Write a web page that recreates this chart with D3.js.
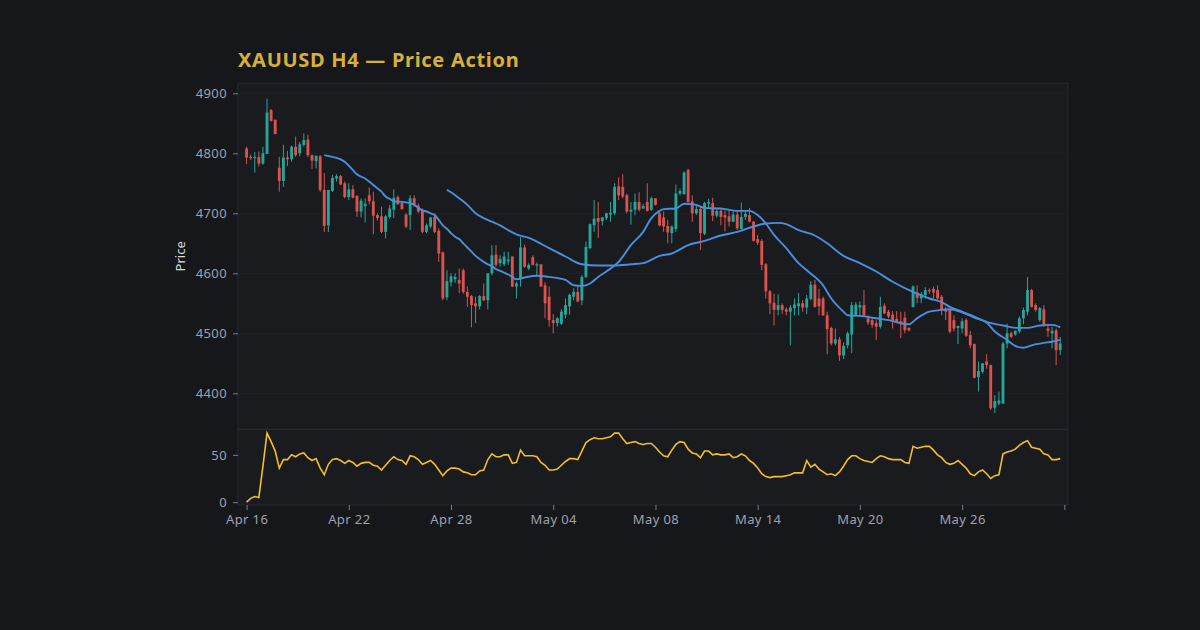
<!DOCTYPE html>
<html>
<head>
<meta charset="utf-8">
<script src="https://cdn.jsdelivr.net/npm/d3@7"></script>
<style>
  html, body { margin: 0; padding: 0; background: #16171b; }
  svg { display: block; font-family: "Noto Sans", Lato, sans-serif; }
  .axis text { fill: #9ea2ab; font-size: 13px; font-family: "Noto Sans", Lato, sans-serif; letter-spacing: 0.4px; }
  .axis path { display: none; }
  .axis line { stroke: #7a7e87; }
</style>
</head>
<body>
<svg id="chart" width="1200" height="630"></svg>
<script>
// H4 candles, index 0 = Apr 16
const opens = [
  4808,4794,4792,4794,4783,4799,4872,4856,4776,4754, 4793,4790,4811,4800,4814,4823,4797,4787,4795,4739,
  4680,4737,4758,4762,4750,4727,4740,4729,4703,4712, 4730,4720,4697,4695,4669,4694,4706,4727,4717,4698,
  4697,4725,4713,4705,4669,4678,4694,4671,4635,4560, 4585,4590,4589,4605,4569,4562,4550,4545,4562,4555,
  4600,4631,4617,4615,4620,4628,4578,4590,4643,4608, 4627,4613,4615,4580,4561,4522,4517,4516,4531,4545,
  4561,4569,4555,4594,4642,4680,4692,4687,4692,4698, 4700,4745,4744,4730,4703,4706,4719,4708,4719,4706,
  4725,4700,4693,4679,4667,4674,4733,4732,4772,4720, 4700,4707,4666,4716,4717,4696,4704,4697,4695,4686,
  4698,4674,4694,4697,4686,4657,4654,4615,4570,4551, 4539,4547,4540,4536,4542,4545,4550,4543,4557,4581,
  4558,4558,4530,4509,4483,4490,4463,4480,4498,4529, 4543,4547,4525,4522,4517,4511,4546,4536,4531,4524,
  4520,4526,4509,4544,4568,4558,4564,4572,4574,4572, 4561,4541,4539,4522,4509,4508,4522,4497,4482,4427,
  4436,4453,4447,4376,4383,4383,4483,4500,4498,4503, 4525,4536,4572,4547,4522,4540,4508,4500,4505,4472
];
const highs = [
  4811,4798,4802,4803,4811,4891,4874,4856,4794,4814, 4804,4813,4828,4819,4833,4831,4798,4796,4797,4767,
  4739,4764,4765,4764,4753,4750,4747,4730,4725,4725, 4743,4736,4700,4711,4697,4714,4740,4730,4719,4700,
  4730,4730,4716,4708,4683,4694,4700,4675,4636,4605, 4600,4600,4608,4608,4578,4564,4561,4564,4583,4600,
  4647,4647,4630,4636,4636,4628,4586,4660,4648,4617, 4630,4618,4615,4585,4578,4532,4527,4540,4558,4566,
  4575,4580,4597,4653,4683,4722,4719,4694,4701,4719, 4750,4760,4765,4733,4719,4733,4735,4716,4750,4728,
  4725,4703,4703,4689,4680,4748,4741,4770,4774,4730, 4714,4711,4719,4724,4726,4709,4707,4704,4704,4703,
  4705,4718,4704,4709,4687,4664,4657,4617,4572,4566, 4565,4550,4543,4547,4558,4567,4555,4564,4587,4589,
  4574,4561,4536,4511,4508,4494,4485,4503,4552,4552, 4553,4572,4530,4525,4522,4561,4550,4539,4537,4537,
  4536,4536,4510,4580,4580,4569,4577,4575,4578,4580, 4564,4544,4541,4530,4513,4525,4525,4504,4483,4453,
  4450,4465,4448,4397,4403,4486,4516,4503,4505,4528, 4543,4594,4574,4550,4544,4547,4516,4511,4508,4494
];
const lows = [
  4782,4789,4768,4778,4781,4799,4853,4832,4736,4744, 4779,4786,4794,4795,4811,4794,4774,4775,4736,4669,
  4669,4736,4753,4747,4725,4722,4725,4694,4693,4685, 4715,4665,4688,4667,4658,4691,4692,4714,4706,4675,
  4672,4711,4700,4667,4667,4675,4667,4619,4555,4555, 4578,4584,4567,4566,4544,4510,4517,4540,4554,4540,
  4597,4611,4611,4612,4614,4577,4558,4578,4609,4605, 4613,4596,4578,4525,4511,4500,4511,4514,4525,4531,
  4555,4552,4547,4592,4640,4669,4659,4680,4689,4686, 4697,4722,4725,4700,4681,4697,4703,4707,4703,4704,
  4713,4678,4669,4650,4650,4669,4730,4731,4718,4686, 4697,4639,4664,4709,4687,4693,4680,4670,4678,4686,
  4672,4672,4689,4685,4653,4647,4605,4558,4532,4513, 4530,4532,4530,4480,4530,4530,4536,4532,4555,4543,
  4530,4529,4465,4480,4480,4454,4457,4475,4467,4528, 4530,4527,4514,4509,4489,4508,4532,4525,4508,4517,
  4492,4500,4503,4543,4550,4550,4558,4566,4558,4553, 4530,4522,4500,4503,4482,4500,4494,4475,4425,4403,
  4433,4441,4372,4367,4380,4382,4475,4492,4496,4500, 4515,4530,4543,4536,4519,4511,4494,4475,4447,4464
];
const closes = [
  4793,4792,4794,4783,4800,4868,4854,4832,4754,4793, 4790,4811,4797,4815,4822,4797,4788,4796,4739,4679,
  4739,4759,4762,4748,4727,4740,4726,4703,4721,4716, 4720,4696,4692,4669,4695,4708,4726,4715,4707,4678,
  4725,4714,4703,4669,4680,4693,4669,4633,4558,4587, 4595,4594,4583,4569,4561,4547,4545,4562,4555,4600,
  4630,4614,4624,4628,4623,4578,4583,4643,4611,4614, 4614,4615,4578,4550,4522,4517,4525,4536,4547,4564,
  4569,4553,4594,4644,4682,4691,4686,4693,4700,4701, 4744,4730,4728,4703,4706,4719,4706,4712,4704,4725,
  4714,4680,4678,4668,4678,4733,4737,4768,4719,4700, 4707,4667,4717,4719,4696,4704,4694,4693,4686,4698,
  4675,4694,4699,4686,4654,4651,4614,4570,4550,4539, 4547,4539,4536,4543,4548,4550,4543,4558,4581,4544,
  4545,4530,4507,4483,4490,4463,4479,4500,4547,4548, 4547,4530,4518,4514,4511,4544,4533,4528,4520,4518,
  4515,4505,4505,4578,4559,4565,4572,4570,4568,4558, 4540,4536,4503,4508,4512,4520,4496,4480,4426,4437,
  4450,4447,4375,4387,4388,4483,4500,4494,4504,4525, 4539,4572,4544,4539,4542,4514,4504,4504,4472,4483
];

// moving averages: [candle index, price]
const maFast = [
  [19,4797],[21,4794],[23,4790],[24,4786],[26,4772],[27,4765],[29,4758],[31,4747],[33,4736],[34,4728],
  [35,4724],[36,4720],[38,4719],[40,4717],[41,4714],[42,4709],[43,4705],[44,4703],[45,4700],[46,4697],
  [47,4689],[48,4680],[49,4674],[50,4667],[51,4661],[52,4657],[53,4650],[54,4643],[55,4636],[56,4629],
  [57,4624],[58,4619],[59,4615],[60,4612],[61,4607],[62,4604],[63,4601],[64,4598],[65,4594],[66,4590],
  [68,4593],[71,4596],[74,4594],[78,4589],[80,4580],[82,4579],[84,4583],[86,4594],[88,4603],[91,4619],
  [94,4647],[97,4669],[99,4692],[101,4704],[102,4707],[105,4708],[107,4716],[110,4714],[112,4709],[116,4708],
  [120,4704],[123,4704],[125,4697],[127,4683],[129,4664],[132,4642],[135,4617],[137,4605],[141,4580],[143,4558],
  [146,4536],[147,4530],[150,4529],[154,4525],[157,4522],[160,4517],[162,4515],[164,4525],[167,4536],[170,4539],
  [172,4540],[175,4535],[178,4526],[181,4518],[183,4503],[186,4489],[188,4479],[190,4476],[192,4480],[195,4484],
  [197,4486],[199,4489]
];
const maSlow = [
  [49,4739],[50,4735],[52,4725],[54,4714],[56,4700],[58,4692],[60,4686],[62,4680],[64,4672],[66,4665],
  [69,4659],[74,4642],[78,4628],[82,4615],[86,4613],[90,4613],[94,4615],[97,4617],[101,4629],[104,4633],
  [108,4647],[112,4654],[116,4663],[120,4669],[124,4678],[127,4683],[130,4684],[132,4682],[135,4672],[139,4663],
  [142,4650],[146,4629],[150,4617],[154,4603],[158,4586],[163,4569],[167,4558],[170,4552],[172,4544],[175,4536],
  [178,4528],[181,4519],[185,4513],[188,4509],[191,4509],[194,4513],[197,4514],[199,4510]
];

// lower panel oscillator, one value per candle
const osc = [
  0,4,6,5,38,73,64,54,36,45, 45,50,48,51,52,47,44,46,36,29,
  40,45,46,44,41,44,42,38,41,42, 42,39,38,34,39,44,48,45,44,40,
  49,48,45,40,42,44,40,34,28,33, 36,36,35,32,31,29,29,33,34,45,
  51,48,48,50,50,41,42,55,49,49, 49,48,42,39,34,34,35,39,43,46,
  46,45,54,63,66,68,67,67,68,69, 73,73,67,62,63,64,62,61,62,62,
  58,53,49,48,55,61,64,63,56,52, 51,47,54,54,50,51,50,50,51,47,
  48,51,49,44,41,36,30,27,26,27, 27,27,28,29,31,31,31,44,37,40,
  35,32,29,30,28,32,38,45,49,49, 46,44,43,42,46,49,48,46,45,45,
  45,42,41,59,57,58,59,59,55,50, 47,42,40,41,44,40,36,30,28,32,
  34,30,25,28,29,51,53,54,56,60, 63,65,58,57,56,51,50,45,45,46
];

const xTickIdx = [0, 25, 50, 75, 100, 125, 150, 175, 200];
const xTickLabels = ["Apr 16", "Apr 22", "Apr 28", "May 04", "May 08", "May 14", "May 20", "May 26", ""];
const priceTicks = [4400, 4500, 4600, 4700, 4800, 4900];
const oscTicks = [0, 50];

const UP = "#26a69a", DOWN = "#d9534f";

const svg = d3.select("#chart");
const L = 238, R = 1068, T = 83.3, MID = 429.3, B = 505;

const x = d3.scaleLinear().domain([-2.1, 200.9]).range([L, R]);
const y = d3.scaleLinear().domain([4340, 4916.7]).range([MID, T]);
const yo = d3.scaleLinear().domain([-3, 77]).range([B, MID]);

// panel
svg.append("rect").attr("x", L).attr("y", T).attr("width", R - L).attr("height", B - T)
  .attr("fill", "#1a1b1f").attr("stroke", "#262930");
svg.append("line").attr("x1", L).attr("x2", R).attr("y1", MID).attr("y2", MID)
  .attr("stroke", "#2c2f37");

// grid
svg.append("g").selectAll("line").data(priceTicks).join("line")
  .attr("x1", L).attr("x2", R).attr("y1", d => y(d)).attr("y2", d => y(d))
  .attr("stroke", "#1f2126");

// title
svg.append("text").attr("x", L).attr("y", 67)
  .attr("fill", "#d6b03c").attr("font-size", 20).attr("font-weight", 700)
  .attr("letter-spacing", "0.7px")
  .text("XAUUSD H4 \u2014 Price Action");

// candles
const candles = d3.range(opens.length).map(i => ({ i, o: opens[i], h: highs[i], l: lows[i], c: closes[i] }));
const bw = (x(1) - x(0)) * 0.7;
const cg = svg.append("g");
cg.selectAll("line").data(candles).join("line")
  .attr("x1", d => x(d.i)).attr("x2", d => x(d.i))
  .attr("y1", d => y(d.h)).attr("y2", d => y(d.l))
  .attr("stroke", d => d.c >= d.o ? UP : DOWN).attr("stroke-width", 1);
cg.selectAll("rect").data(candles).join("rect")
  .attr("x", d => x(d.i) - bw / 2).attr("width", bw)
  .attr("y", d => y(Math.max(d.o, d.c)))
  .attr("height", d => Math.max(1, Math.abs(y(d.o) - y(d.c))))
  .attr("fill", d => d.c >= d.o ? UP : DOWN);

// moving averages
const maLine = d3.line().x(d => x(d[0])).y(d => y(d[1])).curve(d3.curveMonotoneX);
[maSlow, maFast].forEach(m => {
  svg.append("path").datum(m).attr("d", maLine)
    .attr("fill", "none").attr("stroke", "#4a8fdd").attr("stroke-width", 1.9);
});

// oscillator
svg.append("path").datum(osc)
  .attr("d", d3.line().x((d, i) => x(i)).y(d => yo(d)))
  .attr("fill", "none").attr("stroke", "#f2bd2c").attr("stroke-width", 1.6);

// axes
svg.append("g").attr("class", "axis").attr("transform", `translate(${L},0)`)
  .call(d3.axisLeft(y).tickValues(priceTicks).tickFormat(d3.format("d")).tickSize(5).tickPadding(6));
svg.append("g").attr("class", "axis").attr("transform", `translate(${L},0)`)
  .call(d3.axisLeft(yo).tickValues(oscTicks).tickSize(5).tickPadding(6));
svg.append("g").attr("class", "axis").attr("transform", `translate(0,${B})`)
  .call(d3.axisBottom(x).tickValues(xTickIdx).tickFormat((d, i) => xTickLabels[i]).tickSize(5).tickPadding(5));

svg.append("text")
  .attr("transform", `translate(185,${(T + MID) / 2}) rotate(-90)`)
  .attr("text-anchor", "middle").attr("fill", "#d8d9dc").attr("font-size", 13)
  .text("Price");
</script>
</body>
</html>
